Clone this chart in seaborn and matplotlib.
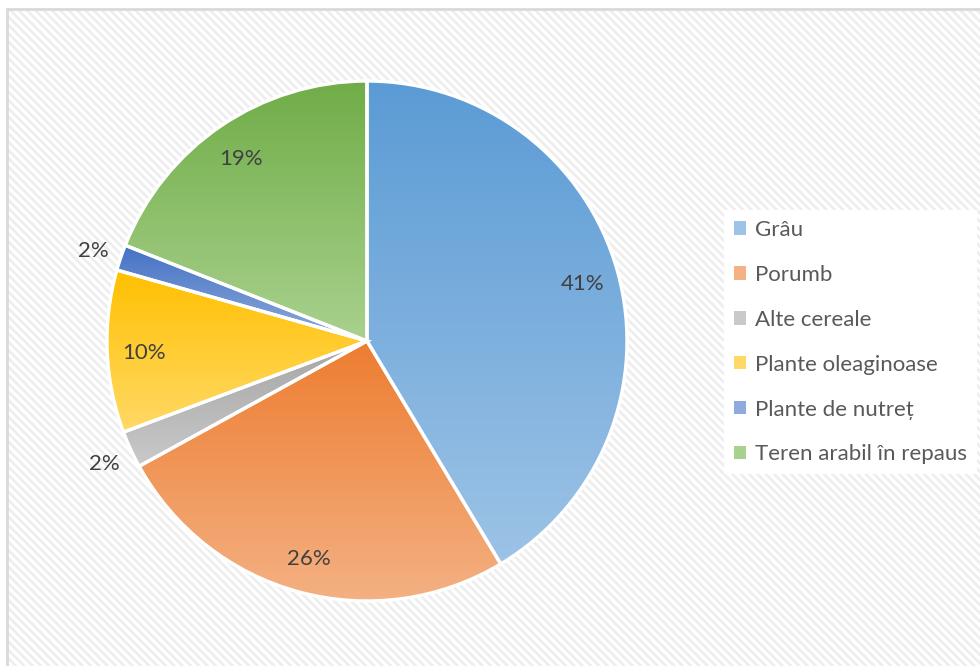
import numpy as np
import matplotlib
matplotlib.use("Agg")
import matplotlib.pyplot as plt
import seaborn as sns
from matplotlib.patches import Rectangle, Patch
from matplotlib.colors import LinearSegmentedColormap

sns.set_theme(style="white")
plt.rcParams['font.family'] = ['Lato', 'DejaVu Sans']
plt.rcParams['hatch.linewidth'] = 2.0

# --- data ---
categories = ['Grâu', 'Porumb', 'Alte cereale', 'Plante oleaginoase',
              'Plante de nutreț', 'Teren arabil în repaus']
shares = [41.4, 25.6, 2.3, 10.1, 1.6, 19.0]
pct_labels = ['41%', '26%', '2%', '10%', '2%', '19%']
top_colors = ['#5B9BD5', '#ED7D31', '#A5A5A5', '#FFC000', '#4472C4', '#70AD47']
bottom_colors = ['#9DC3E6', '#F4B183', '#C9C9C9', '#FFD966', '#8FAADC', '#A9D18E']

W, H = 980, 666
fig = plt.figure(figsize=(W / 100, H / 100), dpi=100)
fig.patch.set_facecolor('white')

# hatched chart area background with light border on top/left
bg = Rectangle((7 / W, -0.1), 1.2, (H - 9) / H + 0.1, transform=fig.transFigure,
               facecolor='white', edgecolor='#eeeeee', hatch='\\\\\\\\', linewidth=0,
               zorder=-5)
fig.add_artist(bg)
fig.add_artist(plt.Line2D([7 / W, 1], [(H - 9) / H] * 2, color='#d9d9d9', lw=2, zorder=-4))
fig.add_artist(plt.Line2D([7 / W] * 2, [0, (H - 9) / H], color='#d9d9d9', lw=2, zorder=-4))

# pie axes: centre (367, 341) px, radius 260 px
cx, cy, r = 367, 341, 260
ax = fig.add_axes([(cx - r) / W, (H - cy - r) / H, 2 * r / W, 2 * r / H])
ax.set_facecolor('none')
ax.set_zorder(2)

wedges, _ = ax.pie(shares, startangle=90, counterclock=False,
                   colors=top_colors, radius=1,
                   wedgeprops=dict(edgecolor='white', linewidth=2.4))

# vertical gradient inside each wedge
for w, c_top, c_bot in zip(wedges, top_colors, bottom_colors):
    ext = w.get_path().get_extents()
    cmap = LinearSegmentedColormap.from_list('g', [c_bot, c_top])
    grad = np.linspace(0, 1, 256).reshape(-1, 1)
    im = ax.imshow(grad, cmap=cmap, origin='lower', aspect='auto',
                   extent=[ext.x0, ext.x1, ext.y0, ext.y1], zorder=w.get_zorder() - 0.1)
    im.set_clip_path(w)
    w.set_facecolor('none')

# percentage labels
total = sum(shares)
start = 0.0
for val, lab in zip(shares, pct_labels):
    mid = (start + val / 2) / total * 2 * np.pi
    start += val
    dist = 1.11 if val < 5 else 0.86
    ax.text(dist * np.sin(mid), dist * np.cos(mid) - 0.01, lab, ha='center', va='center',
            fontsize=16, color='#404040')

ax.set_xlim(-1, 1)
ax.set_ylim(-1, 1)
ax.set_aspect('equal')
ax.axis('off')

handles = [Patch(facecolor=c, edgecolor='none') for c in bottom_colors]
leg = fig.legend(handles, categories, loc='upper left',
                 bbox_to_anchor=(724 / W, (H - 210) / H),
                 frameon=True, fontsize=16, labelcolor='#595959',
                 handlelength=0.55, handleheight=0.55, handletextpad=0.4,
                 labelspacing=1.12, borderpad=0.45, borderaxespad=0, fancybox=False)
leg.get_frame().set_facecolor('white')
leg.get_frame().set_edgecolor('none')
leg.get_frame().set_alpha(1)

fig.savefig('out.png', dpi=100)
